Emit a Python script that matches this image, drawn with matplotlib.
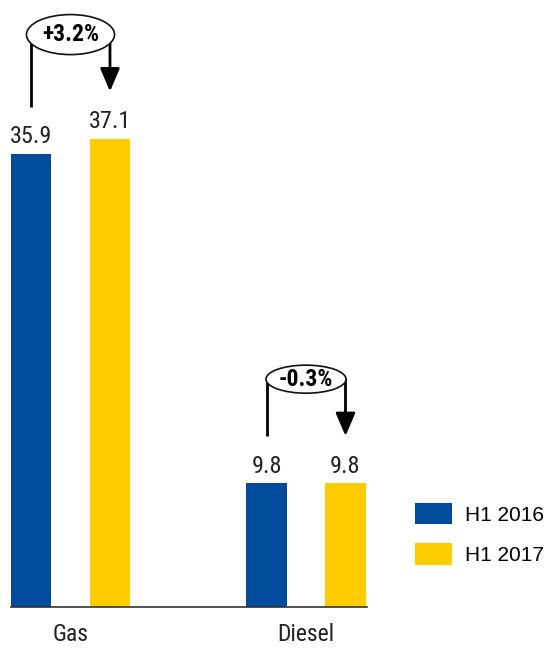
import matplotlib
matplotlib.use("Agg")
import matplotlib.pyplot as plt
from matplotlib.patches import Ellipse, Patch
import numpy as np

plt.rcParams['font.family'] = ['Liberation Sans', 'DejaVu Sans']
NARROW = ['Roboto Condensed', 'Liberation Sans', 'DejaVu Sans']

categories = ["Gas", "Diesel"]
series_names = ["H1 2016", "H1 2017"]
h1_2016 = [35.9, 9.8]
h1_2017 = [37.1, 9.8]
changes = ["+3.2%", "-0.3%"]

colors = ["#004B9B", "#FFCC00"]

fig = plt.figure(figsize=(5.48, 6.48), dpi=100)
ax = fig.add_axes([11 / 548, 41 / 648, 356 / 548, 568 / 648])

x = np.arange(len(categories))
offset = 0.1677
width = 0.17
b1 = ax.bar(x - offset, h1_2016, width, color=colors[0], label=series_names[0])
b2 = ax.bar(x + offset, h1_2017, width, color=colors[1], label=series_names[1])

ax.set_xlim(-0.2526, 1.259)
ax.set_ylim(0, 45)

for bars, vals in ((b1, h1_2016), (b2, h1_2017)):
    for rect, v in zip(bars, vals):
        ax.annotate(f"{v:.1f}", (rect.get_x() + rect.get_width() / 2, v),
                    xytext=(0, 4), textcoords="offset points",
                    ha="center", va="bottom", fontsize=17.5, color="#222222",
                    family=NARROW)

# change brackets above each pair of bars
ellipse_sizes = [(0.374, 3.17), (0.34, 2.22)]
for i, (a, b, txt) in enumerate(zip(h1_2016, h1_2017, changes)):
    xl, xr = x[i] - offset, x[i] + offset
    top = max(a, b) + 8.25
    ax.plot([xl, xl], [a + 3.75, top], color="black", lw=2, clip_on=False,
            solid_capstyle="butt")
    ax.annotate("", xy=(xr, b + 3.75), xytext=(xr, top),
                arrowprops=dict(arrowstyle="-|>,head_length=1.4,head_width=0.6",
                                mutation_scale=10, color="black", lw=2,
                                shrinkA=0, shrinkB=0),
                annotation_clip=False)
    w, h = ellipse_sizes[i]
    e = Ellipse((x[i], top), w, h, facecolor="white", edgecolor="#111111",
                lw=1.2, clip_on=False, zorder=5)
    ax.add_patch(e)
    ax.text(x[i], top, txt, ha="center", va="center", fontsize=17,
            fontweight="bold", zorder=6, color="black", family=NARROW)

for s in ("left", "right", "top"):
    ax.spines[s].set_visible(False)
ax.spines["bottom"].set_color("#333333")
ax.spines["bottom"].set_linewidth(1.2)
ax.set_yticks([])
ax.set_xticks(x)
ax.set_xticklabels(categories, fontsize=17, color="#222222", family=NARROW)
ax.tick_params(axis="x", length=0, pad=11.5)

handles = [Patch(facecolor=c) for c in colors]
fig.legend(handles, series_names, loc="upper left",
           bbox_to_anchor=(415 / 548, 1 - 503 / 648), frameon=False,
           fontsize=15, handlelength=1.78, handleheight=1.2,
           handletextpad=0.62, labelspacing=0.9, borderpad=0,
           borderaxespad=0)

fig.savefig("out.png", dpi=100)
